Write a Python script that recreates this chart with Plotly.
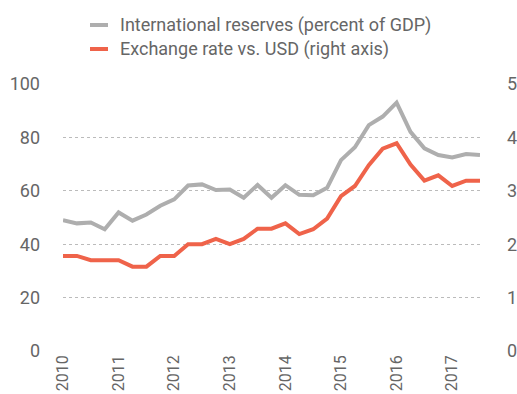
import plotly.graph_objects as go

# Quarterly observations, 2010 Q1 through 2017 Q3
quarters = [f"{y}Q{q}" for y in range(2010, 2018) for q in range(1, 5)][:31]

reserves_pct_gdp = [49.0, 47.8, 48.1, 45.6, 51.9, 48.8, 51.1, 54.4, 56.8, 62.0,
                    62.4, 60.3, 60.5, 57.4, 62.2, 57.4, 62.1, 58.5, 58.3, 61.1,
                    71.5, 76.3, 84.6, 87.8, 93.0, 82.1, 75.9, 73.4, 72.5, 73.8,
                    73.4]

fx_vs_usd = [1.78, 1.78, 1.70, 1.70, 1.70, 1.58, 1.58, 1.78, 1.78, 2.00,
             2.00, 2.10, 2.00, 2.10, 2.29, 2.29, 2.39, 2.19, 2.28, 2.48,
             2.90, 3.09, 3.48, 3.79, 3.89, 3.49, 3.19, 3.29, 3.09, 3.19,
             3.19]

year_labels = [str(y) for y in range(2010, 2018)]
left_ticks = [0, 20, 40, 60, 80, 100]
right_ticks = [0, 1, 2, 3, 4, 5]

series_names = ["International reserves (percent of GDP)",
                "Exchange rate vs. USD (right axis)"]

GREY = "#AEAEAE"
RED = "#EF634A"
TEXT = "#666666"
FONT = "Roboto"
FS = 18

x_idx = list(range(len(quarters)))
year_tickvals = [quarters.index(f"{y}Q1") for y in year_labels]

fig = go.Figure()
fig.add_trace(go.Scatter(x=x_idx, y=reserves_pct_gdp, mode="lines",
                         line=dict(color=GREY, width=4), name=series_names[0],
                         yaxis="y"))
fig.add_trace(go.Scatter(x=x_idx, y=fx_vs_usd, mode="lines",
                         line=dict(color=RED, width=4), name=series_names[1],
                         yaxis="y2"))

# Plot-area geometry in pixels, used to place the hand-built legend
W, H = 517, 394
L, R, T, B = 63, 37, 84, 43
pw, ph = W - L - R, H - T - B

def px_x(px):
    return (px - L) / pw

def px_y(py):
    return (H - B - py) / ph

legend_rows = [(series_names[0], GREY, 25), (series_names[1], RED, 49)]
for text, color, row_y in legend_rows:
    fig.add_shape(type="line", xref="paper", yref="paper",
                  x0=px_x(90), x1=px_x(108), y0=px_y(row_y), y1=px_y(row_y),
                  line=dict(color=color, width=4))
    fig.add_annotation(xref="paper", yref="paper", x=px_x(118), y=px_y(row_y),
                       text=text, showarrow=False, xanchor="left",
                       yanchor="middle",
                       font=dict(family=FONT, size=18, color=TEXT))

fig.update_layout(
    width=W, height=H,
    margin=dict(l=L, r=R, t=T, b=B, autoexpand=False),
    paper_bgcolor="white", plot_bgcolor="white",
    showlegend=False,
    font=dict(family=FONT, size=FS, color=TEXT),
    xaxis=dict(range=[0, 30], tickvals=year_tickvals, ticktext=year_labels,
               tickangle=-90, showgrid=False, zeroline=False, showline=False,
               ticks="", automargin=False,
               tickfont=dict(size=16, color=TEXT)),
    yaxis=dict(range=[0, 100], tickvals=left_ticks, showgrid=True,
               gridcolor="#BBBBBB", griddash="dot", gridwidth=1,
               zeroline=False, showline=False, ticks="", automargin=False,
               ticklabelstandoff=22, tickfont=dict(size=FS, color=TEXT)),
    yaxis2=dict(range=[0, 5], tickvals=right_ticks, overlaying="y",
                side="right", showgrid=False, zeroline=False, showline=False,
                ticks="", automargin=False, ticklabelstandoff=26,
                tickfont=dict(size=FS, color=TEXT)),
)

fig.write_html("out.html")
